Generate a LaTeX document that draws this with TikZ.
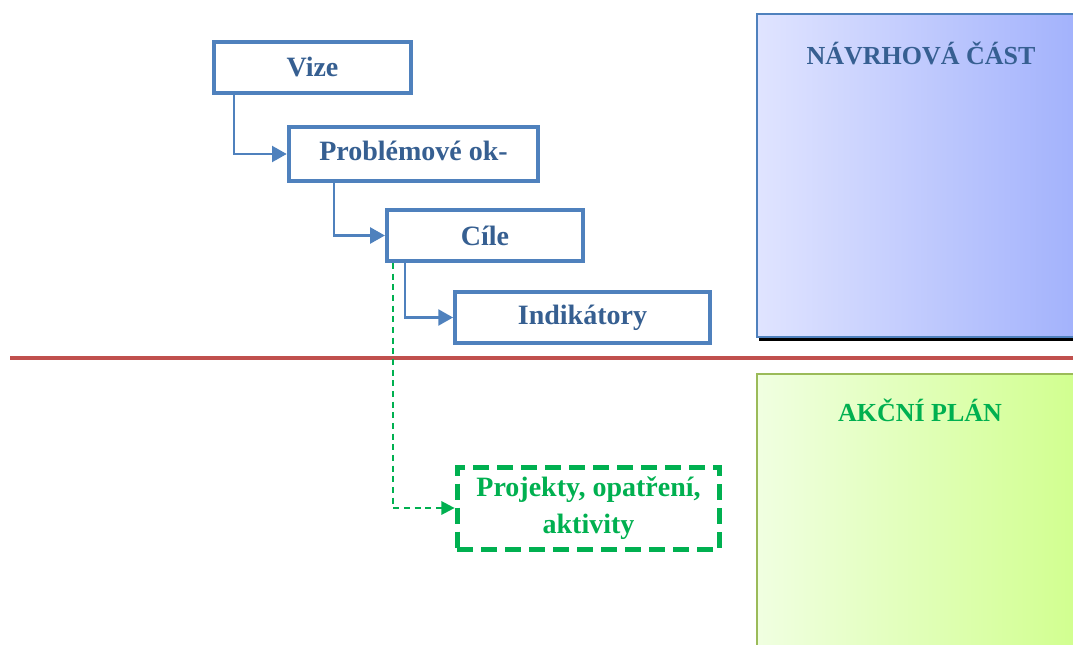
\documentclass[tikz,border=0pt]{standalone}
\usepackage{fontspec}
\setmainfont{Liberation Serif}
\usetikzlibrary{arrows.meta}
\definecolor{boxblue}{RGB}{79,129,189}
\definecolor{textblue}{RGB}{54,95,145}
\definecolor{actgreen}{RGB}{0,176,80}
\definecolor{linered}{RGB}{192,80,77}
\definecolor{framegreen}{RGB}{155,187,89}
\begin{document}
\begin{tikzpicture}[x=0.75pt,y=-0.75pt]
\tikzstyle{stage}=[draw=boxblue, line width=3.2pt, fill=white, text=textblue, font=\fontsize{21}{24}\selectfont\bfseries, minimum height=38pt, inner sep=0pt]
\tikzstyle{action}=[draw=actgreen, line width=3.75pt, dash pattern=on 12pt off 6pt, fill=white, text=actgreen, font=\fontsize{21}{28}\selectfont\bfseries, align=center, inner sep=0pt]
\tikzstyle{link}=[draw=boxblue, line width=1.6pt, -{Triangle[length=11pt,width=12pt]}]
\tikzstyle{actlink}=[draw=actgreen, line width=1.7pt, dash pattern=on 4.5pt off 3.5pt, -{Triangle[length=10pt,width=10pt]}]
\tikzstyle{paneltitle}=[font=\fontsize{19.5}{23}\selectfont\bfseries, inner sep=0pt]

\useasboundingbox (0,0) rectangle (1073,645);
\clip (0,0) rectangle (1073,645);

% Panels on the right
\fill[black] (759,17) rectangle (1090,341);
\shade[left color={rgb,255:red,224;green,228;blue,255}, right color={rgb,255:red,160;green,176;blue,252}, draw=boxblue, line width=1.1pt] (757,14) rectangle (1090,337);
\shade[left color={rgb,255:red,240;green,255;blue,225}, right color={rgb,255:red,208;green,255;blue,140}, draw=framegreen, line width=1.5pt] (757,374) rectangle (1090,660);
\node[paneltitle, text=textblue] (navrh) at (921,53) {NÁVRHOVÁ ČÁST};
\node[paneltitle, text=actgreen] (akcni) at (920,410) {AKČNÍ PLÁN};

% Dividing line
\draw[linered, line width=2.5pt] (10,358) -- (1090,358);

% Stages
\node[stage, minimum width=148pt] (vize) at (312.5,67.5) {Vize};
\node[stage, minimum width=187pt, minimum height=40.5pt] (probl) at (413.5,154) {\raisebox{4.5pt}{Problémové ok-}};
\node[stage, minimum width=147pt] (cile) at (485,235.5) {Cíle};
\node[stage, minimum width=191pt] (indik) at (582.5,317.5) {Indikátory};
\node[action, minimum width=197pt, minimum height=61.5pt] (proj) at (588.5,508) {Projekty, opatření,\\aktivity};

% Connectors
\draw[link] ([xshift=16.5pt]vize.south west) |- (probl.west);
\draw[link] ([xshift=35.25pt]probl.south west) |- (cile.west);
\draw[link] ([xshift=15pt]cile.south west) |- (indik.west);
\draw[actlink] ([xshift=6pt]cile.south west) |- (proj.west);
\end{tikzpicture}
\end{document}
